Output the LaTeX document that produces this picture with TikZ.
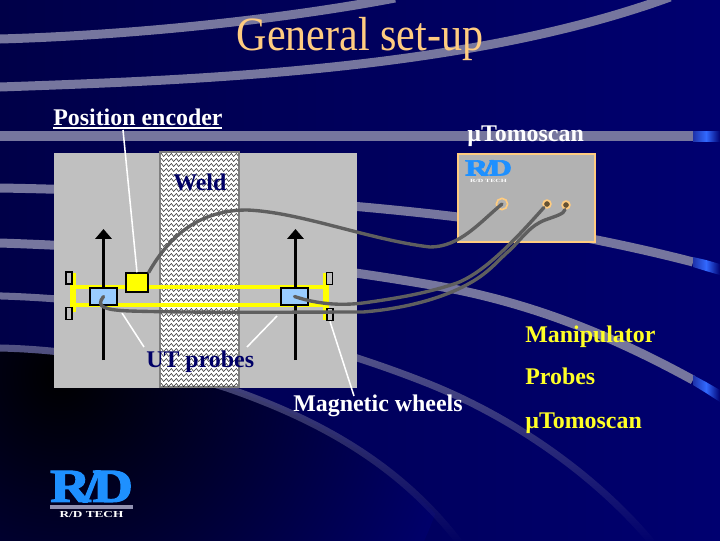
\documentclass[tikz,border=0pt]{standalone}
\usepackage{fontspec}
\setmainfont{Liberation Serif}
\newfontfamily\logofont[BoldFeatures={FakeBold=2.5}]{Liberation Serif}
\usetikzlibrary{arrows.meta,fadings}
\definecolor{bgleft}{RGB}{0,0,72}
\definecolor{bgright}{RGB}{0,0,112}
\definecolor{bandgrey}{RGB}{118,118,158}
\definecolor{plategrey}{RGB}{192,192,192}
\definecolor{cablegrey}{RGB}{95,95,95}
\definecolor{titleorange}{RGB}{255,204,128}
\definecolor{railyellow}{RGB}{255,255,0}
\definecolor{probeblue}{RGB}{153,204,255}
\definecolor{logoblue}{RGB}{30,144,255}
\definecolor{tipblue}{RGB}{50,105,255}
\definecolor{tipdark}{RGB}{30,50,170}
\definecolor{labelnavy}{RGB}{0,0,102}
\tikzfading[name=bandfade,top color=transparent!0,middle color=transparent!10,bottom color=transparent!100]
\tikzset{
  band/.style={draw=bandgrey,line width=6.4pt},
  lowband/.style={draw=bandgrey!92!bgleft,line width=5pt,path fading=bandfade},
  tipin/.style={left color=tipdark,right color=tipblue},
  tipout/.style={left color=tipblue,right color=bgright},
  cable/.style={draw=cablegrey,line width=2.4pt,line cap=round},
  leader/.style={draw=white,line width=1.1pt},
  rail/.style={draw=railyellow,line width=3pt},
  railend/.style={draw=railyellow,line width=3.6pt},
  travel/.style={draw=black,line width=2.8pt,-{Triangle[length=7pt,width=11.5pt]}},
  wheelbox/.style={draw=black,line width=1pt,fill=plategrey,inner sep=0pt,minimum width=4.2pt,minimum height=8.8pt},
  probebox/.style={draw=black,line width=1.2pt,fill=probeblue,inner sep=0pt,minimum width=19.2pt,minimum height=12pt},
  port/.style={circle,draw=titleorange,line width=1.2pt,inner sep=0pt},
  lab/.style={font=\fontsize{17}{20}\selectfont\bfseries,anchor=base west,inner sep=0pt},
}
\begin{document}
\begin{tikzpicture}[x=.025cm,y=-.025cm]
\useasboundingbox (0,0) rectangle (720,540);
\shade[left color=bgleft,right color=bgright] (0,0) rectangle (720,540);
\begin{scope}
\clip (0,348) .. controls (90,350) and (170,370) .. (227,388) .. controls (320,420) and (400,465) .. (459,542) -- (0,542) -- cycle;
\shade[inner color=black,outer color=bgright!85!bgleft] (60,375) circle (400);
\end{scope}
\draw[band] (0,39) .. controls (140,35) and (290,18) .. (395,-2);
\draw[band] (0,87) .. controls (200,80) and (470,70) .. (670,-3);
\draw[band,line width=7pt] (0,136) -- (693,136);
\draw[band] (0,188) .. controls (120,190) and (300,198) .. (458,217) .. controls (530,226) and (620,243) .. (693,262);
\draw[band] (0,243) .. controls (120,247) and (280,258) .. (443,287) .. controls (540,305) and (620,340) .. (693,380);
\draw[lowband] (0,296) .. controls (130,300) and (280,325) .. (427,383) .. controls (520,420) and (600,480) .. (652,542);
\draw[lowband,draw=bandgrey!70!bgleft] (0,348) .. controls (90,350) and (170,370) .. (227,388) .. controls (320,420) and (400,465) .. (459,542);
\shade[tipin] (693,131) rectangle (706,141); \shade[tipout] (706,131) rectangle (720,141);
\shade[tipin] (693,257) -- (706,260) -- (706,271) -- (693,267) -- cycle; \shade[tipout] (706,260) -- (720,264) -- (720,275) -- (706,271) -- cycle;
\shade[tipin] (693,375) -- (706,382) -- (706,393) -- (693,385) -- cycle; \shade[tipout] (706,382) -- (720,390) -- (720,402) -- (706,393) -- cycle;

\fill[plategrey] (54,153) rectangle (357,388);
\draw[draw=gray,line width=1.1pt,fill=white] (160,152) rectangle (239,387);
\begin{scope}
\clip (161,153) rectangle (238,386);
\foreach \wy in {155,160,...,385} \foreach \wx in {160,165,...,235} \draw[black,line width=.3pt] (\wx,\wy) .. controls (\wx+1.2,\wy-2) and (\wx+1.3,\wy-2) .. (\wx+2.5,\wy) .. controls (\wx+3.7,\wy+2) and (\wx+3.8,\wy+2) .. (\wx+5,\wy);
\end{scope}

\draw[rail] (73,287) -- (326,287); \draw[rail] (73,305) -- (326,305);
\draw[railend] (73,273) -- (73,312); \draw[railend] (326,273) -- (326,320);
\draw[travel] (103.5,360) -- (103.5,229);
\draw[travel] (295.5,360) -- (295.5,229);

\node[probebox] (probeL) at (103.5,296.5) {};
\node[probebox] (probeR) at (294.5,296.5) {};
\node[draw=black,line width=1.2pt,fill=railyellow,inner sep=0pt,minimum width=15.6pt,minimum height=13.4pt] (encoder) at (137,282.5) {};
\node[wheelbox] (wheelLT) at (69,278) {};
\node[wheelbox] (wheelLB) at (69,313.5) {};
\node[wheelbox] (wheelRT) at (329.5,278.5) {};
\node[wheelbox] (wheelRB) at (330,314.5) {};

\draw[draw=titleorange,line width=1.2pt,fill=black!30] (458,154) rectangle (595,242);
\node[port,minimum size=8pt] (portA) at (502,204) {};
\node[port,minimum size=5.5pt,fill=black!60!titleorange] (portB) at (547,204) {};
\node[port,minimum size=5.5pt,fill=black!60!titleorange] (portC) at (566,205) {};

\node[inner sep=0pt,text=logoblue] (logoBig) at (91.5,486.5) {\resizebox*{58.8pt}{22.5pt}{\logofont\bfseries R\kern-.12em/\kern-.12em D}};
\fill[bandgrey!80!white] (50,505) rectangle (133,508.5);
\node[inner sep=0pt,text=white] (techBig) at (91.5,514.5) {\scalebox{1.45}[1]{\fontsize{6.5}{7}\selectfont\bfseries R/D TECH}};
\node[inner sep=0pt,text=logoblue] (logoSmall) at (488.5,168) {\resizebox*{33.3pt}{11pt}{\logofont\bfseries R\kern-.12em/\kern-.12em D}};
\node[inner sep=0pt,text=white] (techSmall) at (488.5,181) {\scalebox{1.6}[1]{\fontsize{3.4}{4}\selectfont\bfseries R/D TECH}};

\node[text=titleorange,inner sep=0pt,anchor=base] (title) at (360,50) {\scalebox{.88}[1]{\fontsize{34}{38}\selectfont General set-up}};
\node[lab,text=white] (encoderlab) at (53,125) {Position encoder};
\node[lab,text=white] (tomolab) at (467,141) {µTomoscan};
\node[lab,text=labelnavy] (weldlab) at (173,190) {Weld};
\node[lab,text=labelnavy] (utlab) at (146,367) {UT probes};
\node[lab,text=white] (wheellab) at (293,411) {Magnetic wheels};
\node[lab,text=railyellow!85!white] (manlab) at (525,342) {Manipulator};
\node[lab,text=railyellow!85!white] (problab) at (525,384) {Probes};
\node[lab,text=railyellow!85!white] (tomoleg) at (525,428) {µTomoscan};

\coordinate (encoderfoot) at (123,130);
\coordinate (utleft) at (144,347); \coordinate (utright) at (247,347);
\coordinate (probeLfoot) at (122,313); \coordinate (probeRfoot) at (277,316);
\coordinate (wheelfoot) at (354,396);
\draw[draw=white,line width=1.4pt] (53,128) -- (222,128);
\draw[leader] (encoderfoot) -- (encoder.north);
\draw[leader] (utleft) -- (probeLfoot);
\draw[leader] (utright) -- (probeRfoot);
\draw[leader] (wheelRB.south) -- (wheelfoot);

\draw[cable] (encoder.north east) .. controls (170,235) and (200,210) .. (247,210) .. controls (300,212) and (370,240) .. (430,247) .. controls (460,247) and (480,222) .. (portA.center);
\draw[cable] (probeL.center) .. controls (95,307) and (105,310) .. (130,311) .. controls (200,313) and (300,312) .. (363,312) .. controls (400,309) and (440,300) .. (470,283) .. controls (490,272) and (500,258) .. (510,250) .. controls (525,235) and (530,226) .. (545,220) .. controls (556,216) and (564,214) .. (portC);
\draw[cable] (probeR.center) .. controls (320,305) and (345,306) .. (370,302) .. controls (405,297) and (430,292) .. (457,283) .. controls (485,272) and (515,240) .. (portB);
\end{tikzpicture}
\end{document}
